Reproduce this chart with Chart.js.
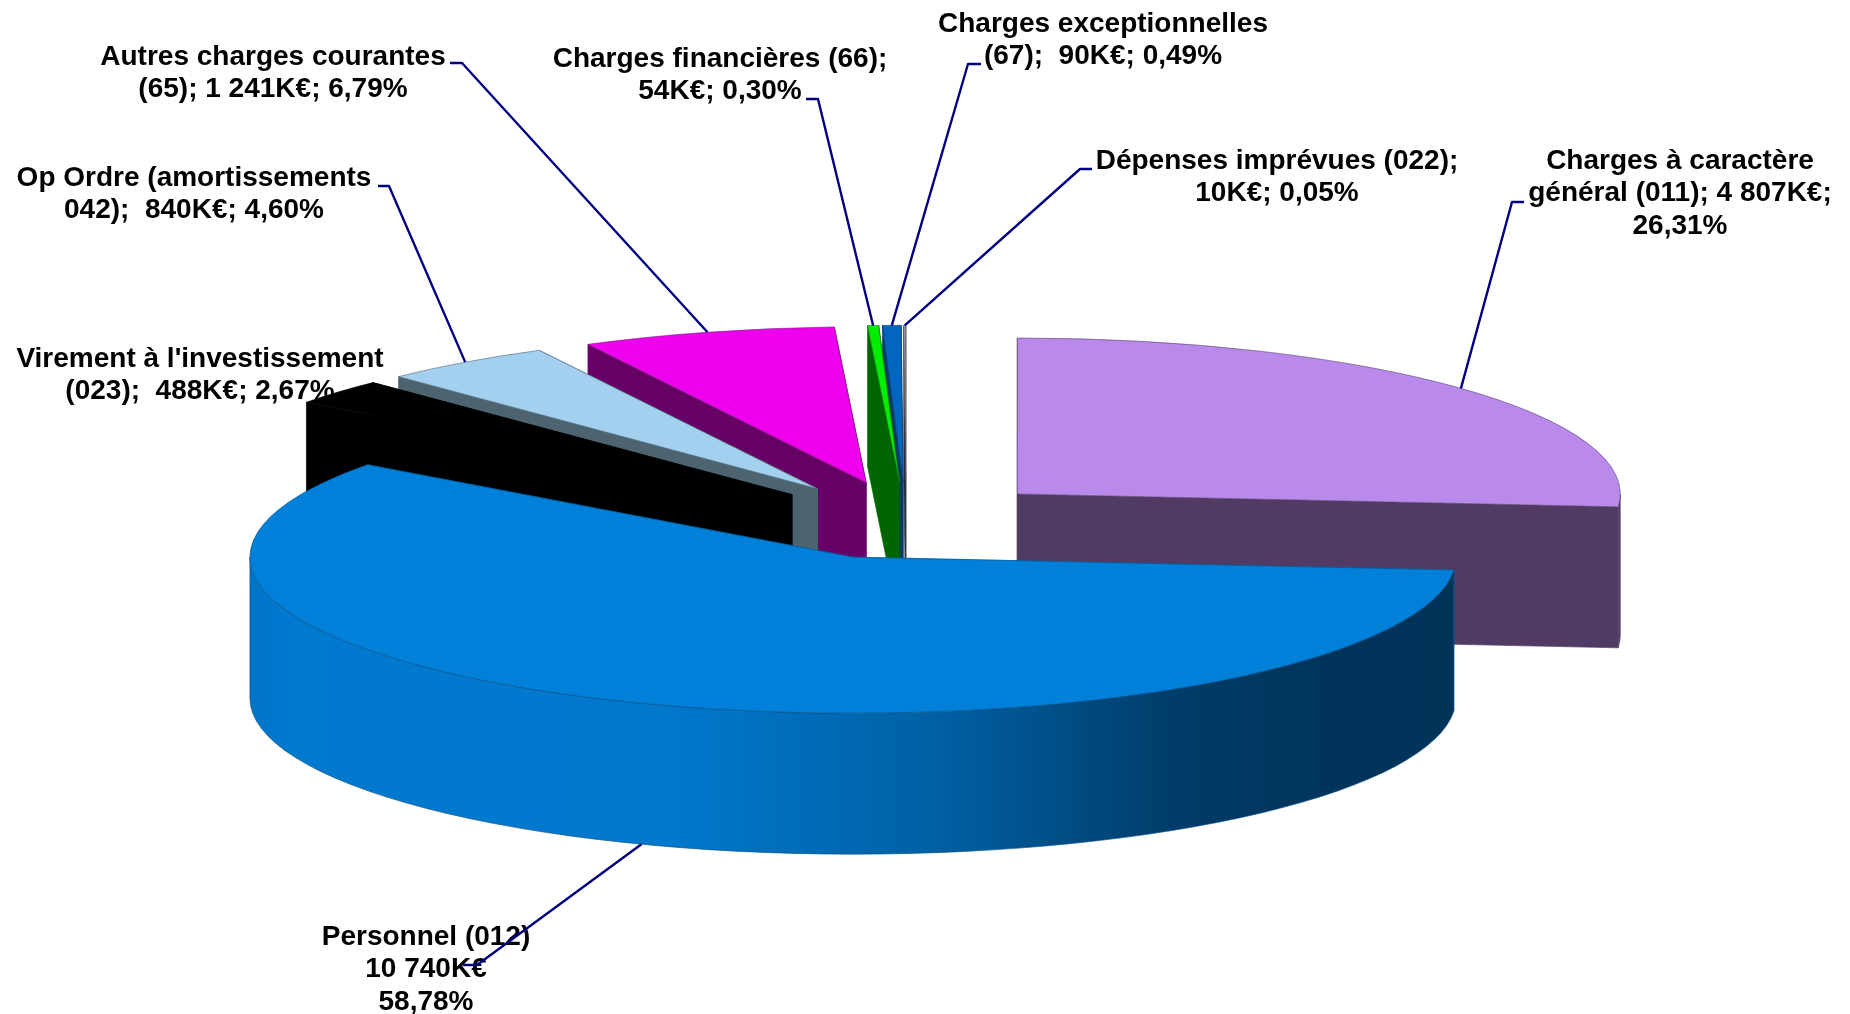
<!DOCTYPE html>
<html><head><meta charset="utf-8">
<style>html,body{margin:0;padding:0;background:#fff}canvas{display:block}</style>
<script src="https://cdn.jsdelivr.net/npm/chart.js@4/dist/chart.umd.js"></script>
</head><body><canvas id="c" width="1850" height="1014"></canvas>
<script>
// Draw order puts Personnel last, as it sits in front of every other slice.
const categories = ["Virement à l'investissement (023)","Op Ordre (amortissements 042)","Autres charges courantes (65)","Charges financières (66)","Charges exceptionnelles (67)","Dépenses imprévues (022)","Charges à caractère général (011)","Personnel (012)"];
const valuesKEuro = [488,840,1241,54,90,10,4807,10740];
const labelLines = [
  ["Virement à l'investissement","(023);  488K€; 2,67%"],
  ["Op Ordre (amortissements","042);  840K€; 4,60%"],
  ["Autres charges courantes","(65); 1 241K€; 6,79%"],
  ["Charges financières (66);","54K€; 0,30%"],
  ["Charges exceptionnelles","(67);  90K€; 0,49%"],
  ["Dépenses imprévues (022);","10K€; 0,05%"],
  ["Charges à caractère","général (011); 4 807K€;","26,31%"],
  ["Personnel (012)","10 740K€","58,78%"]
];
const topColors  = ['#000000','#A3D0EE','#EE00EE','#00EE00','#0066BF','#9AA0A8','#B98AEC','#0080D8'];
const wallColors = ['#000000','#4D6470','#660066','#006400','#0A3A66','#222A38','#513A63','#0079D0'];
const edgeColors = ['#000000','#5A7080','#7A207A','#1F7A1F','#0A3A66','#555','#5E4A72','#0A4F86'];
const personnelWallStops = [[0,'#0073C6'],[0.03,'#0079D0'],[0.35,'#0078CC'],[0.57,'#0060A4'],[0.77,'#003C68'],[0.9,'#00345A'],[1,'#003358']];

// Layout
const RADIUS = 603, SQUASH = 0.2587, DEPTH = 141, EXPLODE = 151.3;
const ROTATION = 306.35;
const labelCenters = [[200,359],[194,178],[273,57],[720,59],[1103,24],[1277,161],[1680,161],[426,937]];
const labelLineGap = 32.5;
const leaderStubs = [null,[[378,186],[389,186]],[[450,63],[462,63]],[[806,99],[818,99]],[[981,64],[968,64]],[[1092,169],[1080,169]],[[1524,202],[1512,202]],[[463,965],[477,965]]];
const leaderOnWall = [false,false,false,false,false,false,false,true];

function arcGeom(el){
  const mid=(el.startAngle+el.endAngle)/2;
  return {mid, x:el.x+Math.cos(mid)*EXPLODE, y:el.y+Math.sin(mid)*EXPLODE};
}
const pie3d = {
  id:'pie3d',
  afterDatasetsUpdate(chart){
    // ArcElement shrinks the sweep and grows the radius of an offset slice by
    // offset*(1-sin(circumference)); a quarter-turn value makes that term zero,
    // so every slice keeps its true angles (start/end are what it really paints).
    chart.getDatasetMeta(0).data.forEach(el=>{ el.circumference=Math.PI/2; });
  },
  beforeDatasetsDraw(chart){
    const ctx=chart.ctx, a=chart.chartArea, cy=(a.top+a.bottom)/2;
    const els=chart.getDatasetMeta(0).data, D=DEPTH/SQUASH;
    ctx.save();
    ctx.translate(0,cy); ctx.scale(1,SQUASH); ctx.translate(0,-cy);
    // painter's order: slices exploded towards the back get their walls first
    const order=els.map((el,i)=>i).sort((p,q)=>arcGeom(els[p]).y-arcGeom(els[q]).y);
    order.forEach(i=>{
      const el=els[i], g=arcGeom(el);
      ctx.fillStyle=wallColors[i]; ctx.strokeStyle=wallColors[i]; ctx.lineWidth=1;
      [el.startAngle,el.endAngle].forEach(t=>{
        ctx.beginPath();
        ctx.moveTo(g.x,g.y);
        ctx.lineTo(g.x+RADIUS*Math.cos(t),g.y+RADIUS*Math.sin(t));
        ctx.lineTo(g.x+RADIUS*Math.cos(t),g.y+RADIUS*Math.sin(t)+D);
        ctx.lineTo(g.x,g.y+D);
        ctx.closePath(); ctx.fill(); ctx.stroke();
      });
      // front-facing part of the outer rim
      const TAU=Math.PI*2;
      let s=el.startAngle, e=el.endAngle;
      const k=Math.floor(s/TAU); s-=k*TAU; e-=k*TAU;
      const ranges=[[s,e],[s-TAU,e-TAU]];
      ctx.strokeStyle=edgeColors[i];
      ranges.forEach(r=>{
        const s2=Math.max(r[0],0), e2=Math.min(r[1],Math.PI);
        if(e2<=s2) return;
        if(i===valuesKEuro.indexOf(10740)){
          const gr=ctx.createLinearGradient(g.x-RADIUS,0,g.x+RADIUS,0);
          personnelWallStops.forEach(p=>gr.addColorStop(p[0],p[1]));
          ctx.fillStyle=gr;
        }
        ctx.beginPath();
        ctx.arc(g.x,g.y,RADIUS,s2,e2);
        ctx.arc(g.x,g.y+D,RADIUS,e2,s2,true);
        ctx.closePath(); ctx.fill(); ctx.stroke();
      });
    });
    // leave the squash transform active for the library's arcs
  },
  afterDatasetsDraw(chart){
    const ctx=chart.ctx, a=chart.chartArea, cy=(a.top+a.bottom)/2;
    ctx.restore();
    const els=chart.getDatasetMeta(0).data;
    ctx.save();
    ctx.font='bold 28px "Liberation Sans", Arial, sans-serif';
    ctx.fillStyle='#000'; ctx.textAlign='center'; ctx.textBaseline='middle';
    labelLines.forEach((lines,i)=>lines.forEach((t,j)=>{
      ctx.fillText(t,labelCenters[i][0],labelCenters[i][1]+j*labelLineGap);
    }));
    ctx.strokeStyle='#000080'; ctx.lineWidth=2.4; ctx.lineJoin='round';
    els.forEach((el,i)=>{
      const st=leaderStubs[i]; if(!st) return;
      const g=arcGeom(el);
      const ex=g.x+RADIUS*Math.cos(g.mid);
      const ey=cy+(g.y+RADIUS*Math.sin(g.mid)-cy)*SQUASH+(leaderOnWall[i]?DEPTH:0);
      ctx.beginPath();
      ctx.moveTo(st[0][0],st[0][1]); ctx.lineTo(st[1][0],st[1][1]); ctx.lineTo(ex,ey);
      ctx.stroke();
    });
    ctx.restore();
  }
};
new Chart(document.getElementById('c'),{
  type:'pie',
  data:{labels:categories,datasets:[{
    data:valuesKEuro,
    backgroundColor:topColors,
    borderColor:edgeColors,
    borderWidth:1,
    offset:EXPLODE*4,
    clip:false
  }]},
  options:{
    responsive:false,animation:false,
    radius:RADIUS,rotation:ROTATION,
    layout:{padding:{top:27,right:38}},
    plugins:{legend:{display:false},tooltip:{enabled:false},title:{display:false}},
    events:[]
  },
  plugins:[pie3d]
});
</script></body></html>
